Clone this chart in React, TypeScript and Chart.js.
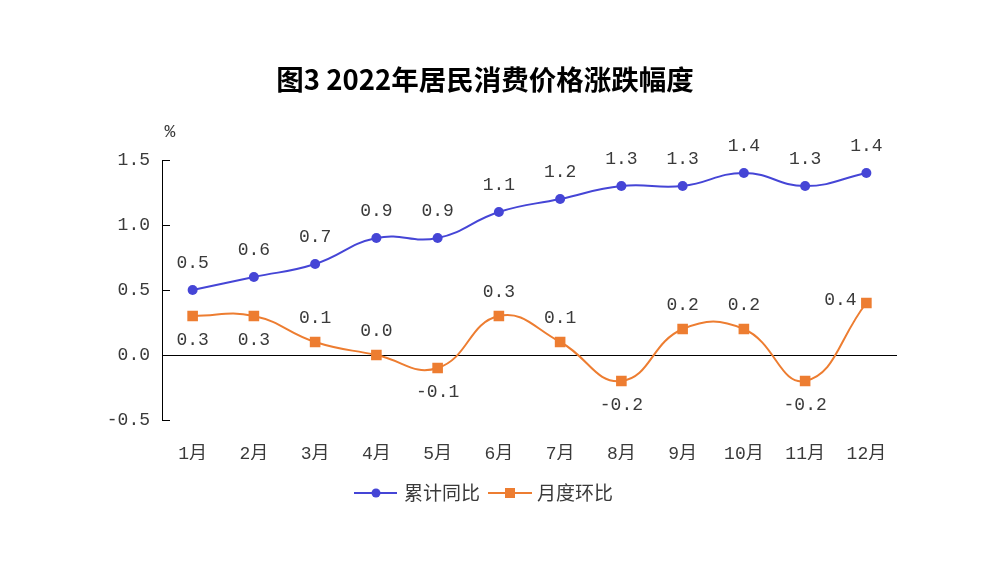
import { useEffect, useRef } from 'react';
import { Chart, registerables, Plugin } from 'chart.js';

Chart.register(...registerables);

const months = ['1月', '2月', '3月', '4月', '5月', '6月', '7月', '8月', '9月', '10月', '11月', '12月'];
const cumulative = [0.5, 0.6, 0.7, 0.9, 0.9, 1.1, 1.2, 1.3, 1.3, 1.4, 1.3, 1.4];
const monthly = [0.3, 0.3, 0.1, 0.0, -0.1, 0.3, 0.1, -0.2, 0.2, 0.2, -0.2, 0.4];
const seriesNames = ['累计同比', '月度环比'];
const yTicks = [-0.5, 0.0, 0.5, 1.0, 1.5];

// where the monthly labels sit relative to their points
const monthlyLabelPos = ['below', 'below', 'above', 'above', 'below', 'above', 'above', 'below', 'above', 'above', 'below', 'left'];

const BLUE = '#4545d6';
const ORANGE = '#ed7d31';
const TEXT = '#3a3a3a';
const NUM_FONT = "'Liberation Mono', 'Noto Sans CJK SC', monospace";
const CJK_FONT = "'Noto Sans CJK SC', sans-serif";

const decorPlugin: Plugin<'line'> = {
  id: 'decor',
  afterDatasetsDraw(chart) {
    const { ctx, chartArea } = chart;
    const y = chart.scales.y;
    ctx.save();

    // inward ticks on the y axis
    ctx.strokeStyle = '#000';
    ctx.lineWidth = 1;
    yTicks.forEach(v => {
      const py = Math.round(y.getPixelForValue(v)) + 0.5;
      ctx.beginPath();
      ctx.moveTo(chartArea.left, py);
      ctx.lineTo(chartArea.left + 8, py);
      ctx.stroke();
    });

    // data labels
    ctx.font = `18px ${NUM_FONT}`;
    ctx.fillStyle = TEXT;
    ctx.textAlign = 'center';
    ctx.textBaseline = 'middle';
    chart.getDatasetMeta(0).data.forEach((pt, i) => {
      ctx.fillText(cumulative[i].toFixed(1), pt.x, pt.y - 27);
    });
    chart.getDatasetMeta(1).data.forEach((pt, i) => {
      const pos = monthlyLabelPos[i];
      const txt = monthly[i].toFixed(1);
      if (pos === 'above') ctx.fillText(txt, pt.x, pt.y - 24);
      else if (pos === 'below') ctx.fillText(txt, pt.x, pt.y + 24);
      else ctx.fillText(txt, pt.x - 26, pt.y - 3);
    });

    // unit
    ctx.fillText('%', chartArea.left + 8, 132);

    // title
    ctx.font = `bold 27.5px ${CJK_FONT}`;
    ctx.fillStyle = '#000';
    ctx.fillText('图3 2022年居民消费价格涨跌幅度', 485, 80);

    // legend
    const ly = 493;
    ctx.lineWidth = 2;
    ctx.strokeStyle = BLUE;
    ctx.beginPath();
    ctx.moveTo(354, ly);
    ctx.lineTo(397, ly);
    ctx.stroke();
    ctx.fillStyle = BLUE;
    ctx.beginPath();
    ctx.arc(376, ly, 4.5, 0, Math.PI * 2);
    ctx.fill();

    ctx.strokeStyle = ORANGE;
    ctx.beginPath();
    ctx.moveTo(488, ly);
    ctx.lineTo(532, ly);
    ctx.stroke();
    ctx.fillStyle = ORANGE;
    ctx.fillRect(505, ly - 5, 10, 10);

    ctx.font = `19px ${CJK_FONT}`;
    ctx.fillStyle = TEXT;
    ctx.textAlign = 'left';
    ctx.fillText(seriesNames[0], 404, ly);
    ctx.fillText(seriesNames[1], 537, ly);

    ctx.restore();
  }
};

export default function App() {
  const canvasRef = useRef<HTMLCanvasElement>(null);

  useEffect(() => {
    document.body.style.margin = '0';
    if (!canvasRef.current) return;

    const chart = new Chart(canvasRef.current, {
      type: 'line',
      data: {
        labels: months,
        datasets: [
          {
            label: seriesNames[0],
            data: cumulative,
            borderColor: BLUE,
            backgroundColor: BLUE,
            borderWidth: 2,
            tension: 0.45,
            pointStyle: 'circle',
            pointRadius: 5,
            pointBorderWidth: 0
          },
          {
            label: seriesNames[1],
            data: monthly,
            borderColor: ORANGE,
            backgroundColor: ORANGE,
            borderWidth: 2,
            tension: 0.45,
            pointStyle: 'rect',
            pointRadius: 7.5,
            pointBorderWidth: 0
          }
        ]
      },
      options: {
        responsive: false,
        animation: false,
        layout: {
          padding: { left: 0, right: 107, top: 160, bottom: 104 }
        },
        plugins: {
          legend: { display: false },
          title: { display: false },
          tooltip: { enabled: false }
        },
        scales: {
          x: {
            offset: true,
            grid: { display: false },
            border: { display: false },
            ticks: {
              color: TEXT,
              padding: 15,
              maxRotation: 0,
              font: { family: NUM_FONT, size: 18 }
            },
            afterFit: scale => {
              scale.height = 40;
            }
          },
          y: {
            min: -0.5,
            max: 1.5,
            border: { display: true, color: '#000', width: 1 },
            grid: {
              drawTicks: false,
              color: c => (c.tick && c.tick.value === 0 ? '#000' : 'rgba(0,0,0,0)'),
              lineWidth: 1
            },
            ticks: {
              stepSize: 0.5,
              padding: 12,
              color: TEXT,
              font: { family: NUM_FONT, size: 18 },
              callback: v => Number(v).toFixed(1)
            },
            afterFit: scale => {
              scale.width = 162;
            }
          }
        }
      },
      plugins: [decorPlugin]
    });

    return () => {
      chart.destroy();
    };
  }, []);

  return (
    <div style={{ width: 1004, height: 564, background: '#fff' }}>
      <canvas ref={canvasRef} width={1004} height={564}></canvas>
    </div>
  );
}
